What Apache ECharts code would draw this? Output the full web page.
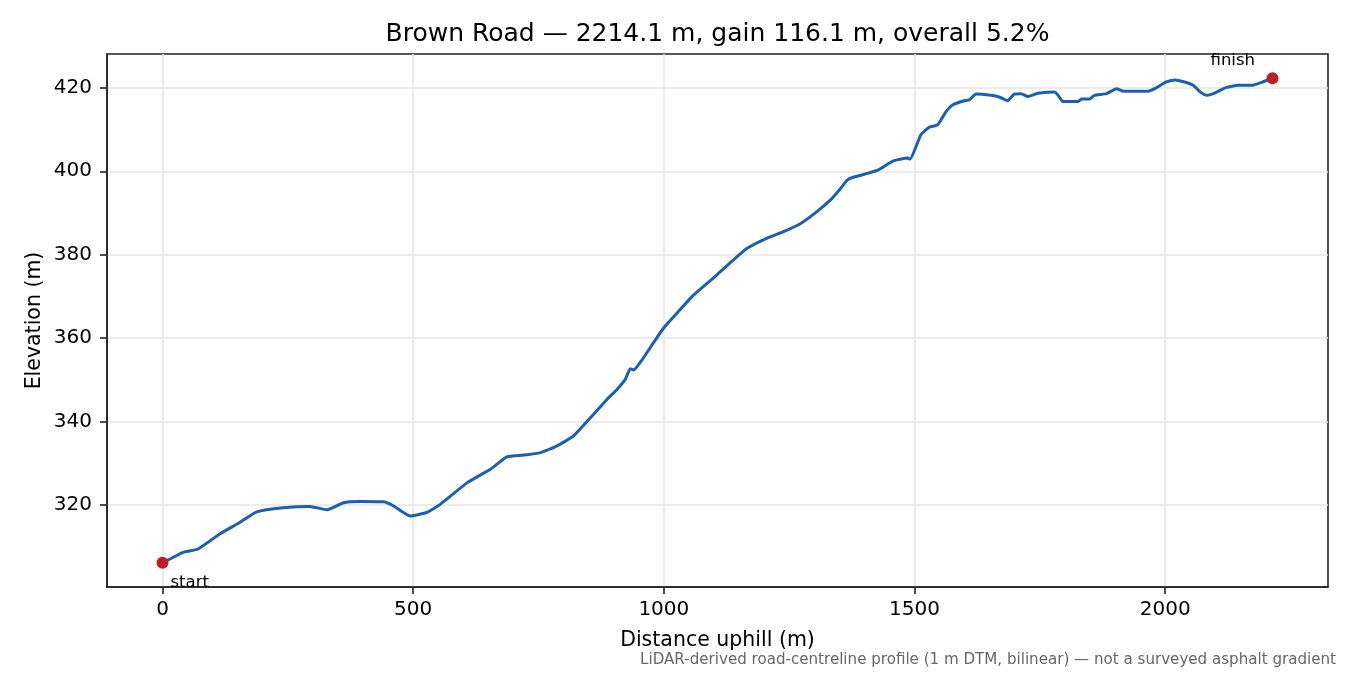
<!DOCTYPE html>
<html>
<head>
<meta charset="utf-8">
<script src="https://cdn.jsdelivr.net/npm/echarts@6/dist/echarts.min.js"></script>
<style>html,body{margin:0;padding:0;background:#fff;}#c{width:1350px;height:675px;}</style>
</head>
<body>
<div id="c"></div>
<script>
const distance = [0, 15, 41, 71, 114, 155, 188, 241, 294, 328, 361, 394, 441, 461, 494, 528, 554, 608, 654, 687, 721, 754, 787, 820, 860, 887, 907, 923, 933, 940, 957, 977, 1000, 1027, 1057, 1107, 1140, 1167, 1206, 1240, 1273, 1306, 1333, 1350, 1365, 1373, 1426, 1456, 1486, 1491, 1513, 1530, 1546, 1563, 1576, 1599, 1609, 1623, 1653, 1669, 1686, 1699, 1713, 1726, 1739, 1746, 1779, 1786, 1796, 1826, 1833, 1849, 1859, 1883, 1903, 1916, 1966, 1979, 2002, 2019, 2039, 2056, 2069, 2083, 2096, 2122, 2146, 2172, 2192, 2214.1];
const elevation = [306.2, 307.1, 308.7, 309.5, 313.1, 315.9, 318.4, 319.4, 319.7, 318.9, 320.6, 320.9, 320.8, 319.8, 317.4, 318.3, 320.2, 325.4, 328.6, 331.6, 332.0, 332.6, 334.2, 336.6, 341.8, 345.4, 347.8, 350.1, 352.7, 352.4, 354.9, 358.5, 362.5, 366.1, 370.1, 375.3, 378.9, 381.6, 384.0, 385.6, 387.5, 390.4, 393.2, 395.5, 397.8, 398.4, 400.2, 402.4, 403.2, 402.9, 408.8, 410.6, 411.1, 414.3, 415.9, 416.9, 417.1, 418.5, 418.2, 417.8, 416.9, 418.5, 418.6, 417.9, 418.4, 418.7, 419.0, 418.3, 416.7, 416.7, 417.3, 417.3, 418.2, 418.6, 419.8, 419.2, 419.2, 419.8, 421.4, 421.9, 421.4, 420.6, 419.1, 418.2, 418.6, 420.1, 420.6, 420.6, 421.3, 422.3];
const endpointNames = ['start', 'finish'];
const xTicks = [0, 500, 1000, 1500, 2000];
const yTicks = [320, 340, 360, 380, 400, 420];
const titleText = 'Brown Road \u2014 2214.1 m, gain 116.1 m, overall 5.2%';
const xLabel = 'Distance uphill (m)';
const yLabel = 'Elevation (m)';
const footnote = 'LiDAR-derived road-centreline profile (1 m DTM, bilinear) \u2014 not a surveyed asphalt gradient';

const FONT = "'DejaVu Sans', sans-serif";
const lineData = distance.map((d, i) => [d, elevation[i]]);
const xSpan = distance[distance.length - 1] - distance[0];
const yMin = Math.min(...elevation), yMax = Math.max(...elevation);
const ySpan = yMax - yMin;
const last = distance.length - 1;
const endpoints = [
  { value: [distance[0], elevation[0]], name: endpointNames[0],
    label: { show: true, formatter: endpointNames[0], position: 'inside', align: 'left', verticalAlign: 'middle', offset: [8, 20] } },
  { value: [distance[last], elevation[last]], name: endpointNames[1],
    label: { show: true, formatter: endpointNames[1], position: 'inside', align: 'left', verticalAlign: 'middle', offset: [-62, -18] } }
];

const chart = echarts.init(document.getElementById('c'), null, { renderer: 'canvas' });
const axisCommon = {
  type: 'value',
  axisLine: { show: true, onZero: false, lineStyle: { color: '#222', width: 1.6 } },
  axisTick: { show: true, inside: false, length: 7, lineStyle: { color: '#222', width: 1.6 } },
  splitLine: { show: true, lineStyle: { color: '#e6e6e6', width: 1.5 } },
  axisLabel: { color: '#000', fontSize: 20, fontFamily: FONT, formatter: v => String(v) }
};
chart.setOption({
  animation: false,
  backgroundColor: '#fff',
  grid: { left: 107, right: 22, top: 54, bottom: 88, show: true, borderColor: '#222', borderWidth: 1.6, containLabel: false },
  xAxis: Object.assign({}, axisCommon, {
    min: distance[0] - 0.05 * xSpan, max: distance[last] + 0.05 * xSpan,
    axisTick: Object.assign({}, axisCommon.axisTick, { customValues: xTicks }),
    axisLabel: Object.assign({}, axisCommon.axisLabel, { customValues: xTicks, margin: 13 })
  }),
  yAxis: Object.assign({}, axisCommon, {
    min: yMin - 0.05 * ySpan, max: yMax + 0.05 * ySpan,
    axisTick: Object.assign({}, axisCommon.axisTick, { customValues: yTicks }),
    axisLabel: Object.assign({}, axisCommon.axisLabel, { customValues: yTicks, margin: 15 })
  }),
  series: [
    { type: 'line', data: lineData, showSymbol: false, smooth: 0.15, z: 2,
      lineStyle: { color: '#1a5fb4', width: 3 } },
    { type: 'scatter', data: endpoints, symbol: 'circle', symbolSize: 12, z: 3,
      itemStyle: { color: '#c01c28', opacity: 1 },
      label: { color: '#000', fontSize: 16.5, fontFamily: FONT } }
  ],
  graphic: [
    { type: 'text', x: 717.5, y: 34, style: { text: titleText, fill: '#000', font: '25px ' + FONT, align: 'center', verticalAlign: 'middle' } },
    { type: 'text', x: 717.5, y: 641, style: { text: xLabel, fill: '#000', font: '20.5px ' + FONT, align: 'center', verticalAlign: 'middle' } },
    { type: 'text', x: 35, y: 320.5, rotation: Math.PI / 2, style: { text: yLabel, fill: '#000', font: '20.5px ' + FONT, align: 'center', verticalAlign: 'middle' } },
    { type: 'text', x: 1336, y: 660, style: { text: footnote, fill: '#666', font: '15.1px ' + FONT, align: 'right', verticalAlign: 'middle' } }
  ]
});
</script>
</body>
</html>
